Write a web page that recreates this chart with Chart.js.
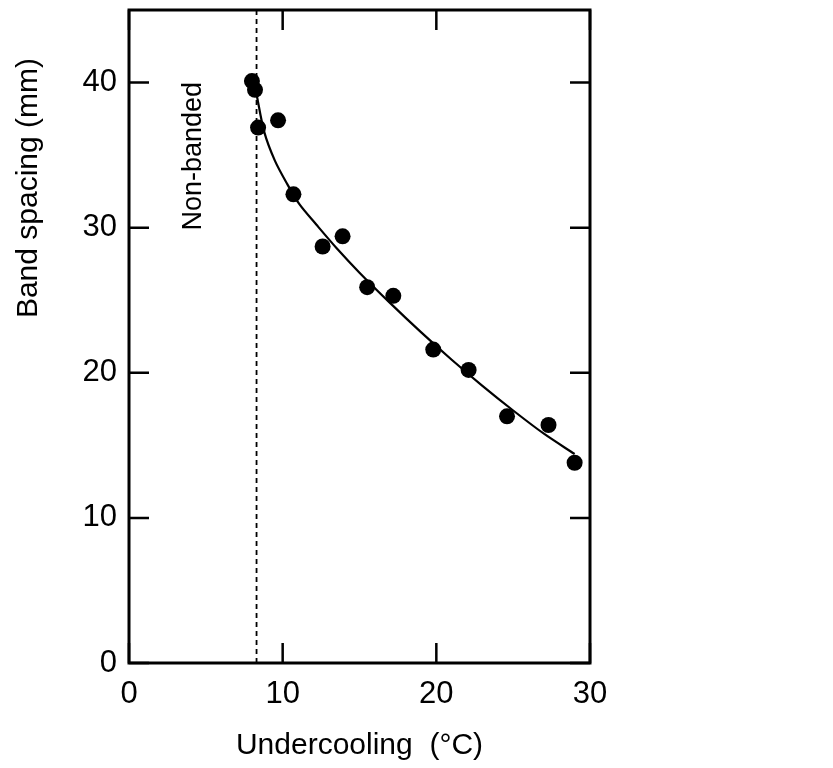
<!DOCTYPE html>
<html>
<head>
<meta charset="utf-8">
<title>Band spacing vs undercooling</title>
<script src="https://cdn.jsdelivr.net/npm/chart.js@4.4.1/dist/chart.umd.min.js"></script>
<style>
    body { margin: 0; background: #fff; }
    canvas { display: block; }
</style>
</head>
<body>
<canvas id="spacingChart" width="833" height="768"></canvas>
<script>
// measured band spacing against undercooling
var undercooling = [8.0, 8.2, 8.4, 9.7, 10.7, 12.6, 13.9, 15.5, 17.2, 19.8, 22.1, 24.6, 27.3, 29.0];
var bandSpacing = [40.1, 39.5, 36.9, 37.4, 32.3, 28.7, 29.4, 25.9, 25.3, 21.6, 20.2, 17.0, 16.4, 13.8];

// trend line through the measurements
var fitUndercooling = [8.3, 8.8, 9.5, 10.3, 11.1, 12.2, 13.5, 15.0, 17.0, 19.0, 21.0, 23.0, 25.0, 27.0, 29.0];
var fitSpacing = [39.2, 36.6, 34.6, 33.0, 31.6, 30.2, 28.6, 26.9, 24.8, 22.8, 20.9, 19.1, 17.4, 15.8, 14.4];

// below this undercooling the spherulites are not banded
var nonBandedLimit = 8.3;

var xRange = [0, 30];
var yRange = [0, 45];
var xTickValues = [0, 10, 20, 30];
var yTickValues = [0, 10, 20, 30, 40];

const FONT = "'Liberation Sans', Arial, Helvetica, sans-serif";
Chart.defaults.font.family = FONT;
Chart.defaults.color = '#000';

function toPoints(xs, ys) {
    return xs.map((x, i) => ({ x: x, y: ys[i] }));
}

// box around the plot, ticks pointing inwards, and the rotated labels
const framePlugin = {
    id: 'frame',
    afterDraw(chart) {
        var ctx = chart.ctx;
        var area = chart.chartArea;
        var xScale = chart.scales.x;
        var yScale = chart.scales.y;
        var tick = 20;

        ctx.save();
        ctx.strokeStyle = '#000';
        ctx.lineWidth = 3;
        ctx.strokeRect(area.left, area.top, area.right - area.left, area.bottom - area.top);

        ctx.lineWidth = 2.5;
        ctx.beginPath();
        xTickValues.forEach(v => {
            var px = xScale.getPixelForValue(v);
            ctx.moveTo(px, area.top);
            ctx.lineTo(px, area.top + tick);
            ctx.moveTo(px, area.bottom);
            ctx.lineTo(px, area.bottom - tick);
        });
        yTickValues.forEach(v => {
            var py = yScale.getPixelForValue(v);
            ctx.moveTo(area.left, py);
            ctx.lineTo(area.left + tick, py);
            ctx.moveTo(area.right, py);
            ctx.lineTo(area.right - tick, py);
        });
        ctx.stroke();

        ctx.fillStyle = '#000';
        ctx.textAlign = 'right';
        ctx.textBaseline = 'alphabetic';

        // y axis title, sitting high on the axis
        ctx.save();
        ctx.font = '30px ' + FONT;
        ctx.translate(37, area.top + 48);
        ctx.rotate(-Math.PI / 2);
        ctx.fillText('Band spacing (mm)', 0, 0);
        ctx.restore();

        // region label left of the dashed limit
        ctx.save();
        ctx.font = '27px ' + FONT;
        ctx.translate(xScale.getPixelForValue(nonBandedLimit) - 56, area.top + 72);
        ctx.rotate(-Math.PI / 2);
        ctx.fillText('Non-banded', 0, 0);
        ctx.restore();

        ctx.restore();
    }
};

new Chart(document.getElementById('spacingChart'), {
    type: 'scatter',
    data: {
        datasets: [{
            label: 'limit',
            data: [{ x: nonBandedLimit, y: yRange[0] }, { x: nonBandedLimit, y: yRange[1] }],
            showLine: true,
            borderColor: '#000',
            borderWidth: 1.8,
            borderDash: [5, 4],
            pointRadius: 0
        }, {
            label: 'fit',
            data: toPoints(fitUndercooling, fitSpacing),
            showLine: true,
            borderColor: '#000',
            borderWidth: 2.2,
            tension: 0.3,
            pointRadius: 0
        }, {
            label: 'band spacing',
            data: toPoints(undercooling, bandSpacing),
            backgroundColor: '#000',
            borderWidth: 0,
            pointRadius: 8
        }]
    },
    options: {
        responsive: false,
        animation: false,
        events: [],
        layout: {
            padding: { top: 10, right: 243, left: 0, bottom: 0 }
        },
        plugins: {
            legend: { display: false },
            tooltip: { enabled: false }
        },
        scales: {
            x: {
                type: 'linear',
                min: xRange[0],
                max: xRange[1],
                grid: { display: false },
                border: { display: false },
                ticks: { font: { size: 31 }, padding: 5, color: '#000' },
                afterBuildTicks: scale => { scale.ticks = xTickValues.map(v => ({ value: v })); },
                afterFit: scale => {
                    scale.height = 105;
                    scale.paddingLeft = 0;
                    scale.paddingRight = 0;
                },
                title: {
                    display: true,
                    text: 'Undercooling  (°C)',
                    font: { size: 30 },
                    color: '#000',
                    padding: { top: 0, bottom: 4 }
                }
            },
            y: {
                type: 'linear',
                min: yRange[0],
                max: yRange[1],
                grid: { display: false },
                border: { display: false },
                ticks: { font: { size: 31 }, padding: 4, color: '#000' },
                afterBuildTicks: scale => { scale.ticks = yTickValues.map(v => ({ value: v })); },
                afterFit: scale => {
                    scale.width = 129;
                    scale.paddingTop = 0;
                    scale.paddingBottom = 0;
                }
            }
        }
    },
    plugins: [framePlugin]
});
</script>
</body>
</html>
